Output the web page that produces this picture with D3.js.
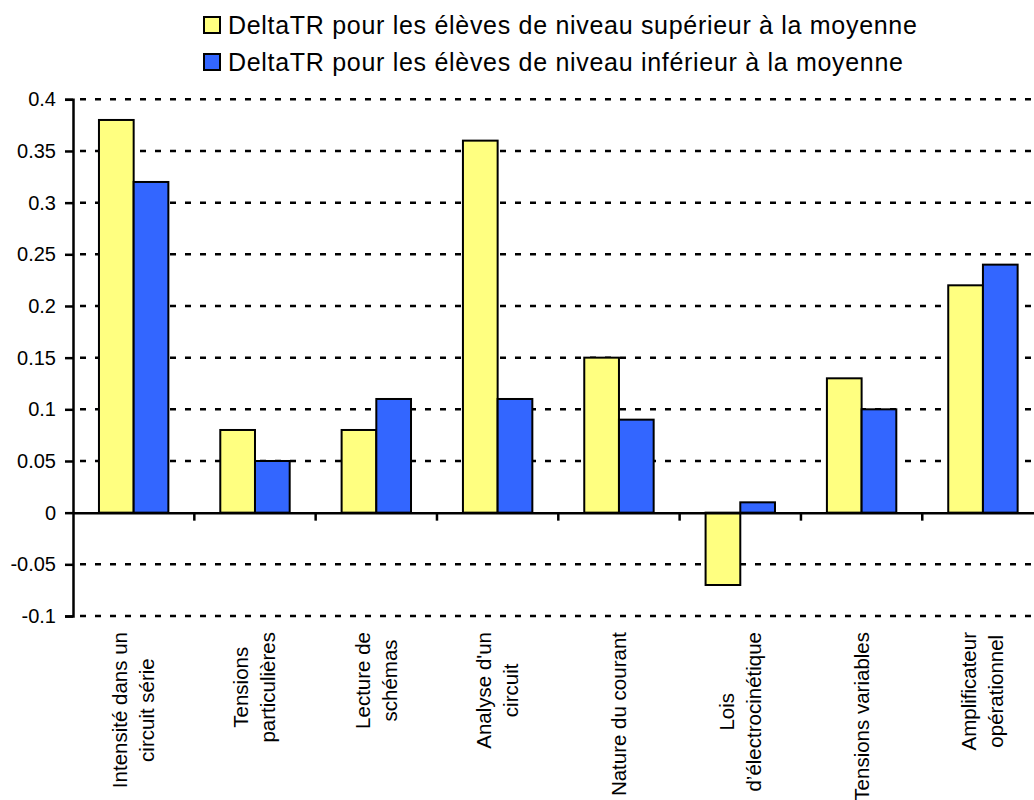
<!DOCTYPE html>
<html>
<head>
<meta charset="utf-8">
<script src="https://cdn.jsdelivr.net/npm/d3@7"></script>
<style>
  body { margin: 0; background: #fff; }
  svg { display: block; font-family: "Liberation Sans", Arial, sans-serif; }
</style>
</head>
<body>
<svg></svg>
<script>
const categories = [
  ["Intensité dans un", "circuit série"],
  ["Tensions", "particulières"],
  ["Lecture de", "schémas"],
  ["Analyse d'un", "circuit"],
  ["Nature du courant"],
  ["Lois", "d’électrocinétique"],
  ["Tensions variables"],
  ["Amplificateur", "opérationnel"]
];
const seriesNames = [
  "DeltaTR pour les élèves de niveau supérieur à la moyenne",
  "DeltaTR pour les élèves de niveau inférieur à la moyenne"
];
const superieur = [0.38, 0.08, 0.08, 0.36, 0.15, -0.07, 0.13, 0.22];
const inferieur = [0.32, 0.05, 0.11, 0.11, 0.09, 0.01, 0.10, 0.24];
const yTicks = [-0.1, -0.05, 0, 0.05, 0.1, 0.15, 0.2, 0.25, 0.3, 0.35, 0.4];
const colors = ["#FFFF80", "#3366FF"];

const svgWidth = 1034, svgHeight = 800;
const plotLeft = 73, plotRight = 1043.6, plotTop = 99.3, plotBottom = 616;

const svg = d3.select("svg")
  .attr("width", svgWidth)
  .attr("height", svgHeight);

const x0 = d3.scaleBand()
  .domain(d3.range(categories.length))
  .range([plotLeft, plotRight]);

const groupW = x0.bandwidth() * 0.572;
const x1 = d3.scaleBand()
  .domain([0, 1])
  .range([0, groupW]);

const y = d3.scaleLinear()
  .domain([-0.1, 0.4])
  .range([plotBottom, plotTop]);

// gridlines
svg.append("g")
  .selectAll("line")
  .data(yTicks.filter(d => d !== 0))
  .enter().append("line")
  .attr("x1", plotLeft + 7)
  .attr("x2", svgWidth)
  .attr("y1", d => y(d))
  .attr("y2", d => y(d))
  .attr("stroke", "#000")
  .attr("stroke-width", 2.5)
  .attr("stroke-dasharray", "6,9");

// bars
const rows = categories.map((c, i) => [superieur[i], inferieur[i]]);
const groups = svg.append("g")
  .selectAll("g")
  .data(rows)
  .enter().append("g")
  .attr("transform", (d, i) => `translate(${x0(i) + (x0.bandwidth() - groupW) / 2},0)`);

groups.selectAll("rect")
  .data(d => d.map((v, s) => ({ v, s })))
  .enter().append("rect")
  .attr("x", d => x1(d.s))
  .attr("width", x1.bandwidth())
  .attr("y", d => y(Math.max(0, d.v)))
  .attr("height", d => Math.abs(y(d.v) - y(0)))
  .attr("fill", d => colors[d.s])
  .attr("stroke", "#000")
  .attr("stroke-width", 2);

// y axis
const yAxis = d3.axisLeft(y)
  .tickValues(yTicks)
  .tickFormat(d => String(+d.toFixed(2)))
  .tickSize(8)
  .tickPadding(9);

const ya = svg.append("g")
  .attr("transform", `translate(${plotLeft},0)`)
  .call(yAxis);
ya.select(".domain").attr("stroke-width", 2.5);
ya.selectAll(".tick line").attr("stroke-width", 2.5);
ya.selectAll("text")
  .attr("font-size", 20)
  .attr("font-family", "Liberation Sans, Arial, sans-serif")
  .attr("fill", "#000");

// x axis at zero
const xAxis = d3.axisBottom(x0)
  .tickSize(0)
  .tickFormat("");
const xa = svg.append("g")
  .attr("transform", `translate(0,${y(0)})`)
  .call(xAxis);
xa.select(".domain").attr("stroke-width", 2.5);
xa.selectAll(".sep")
  .data(d3.range(1, categories.length))
  .enter().append("line")
  .attr("class", "sep")
  .attr("x1", i => x0(i))
  .attr("x2", i => x0(i))
  .attr("y1", 0)
  .attr("y2", 8)
  .attr("stroke", "#000")
  .attr("stroke-width", 2.5);

// category labels (rotated)
const labelTop = 632;
const lineGap = 27;
categories.forEach((lines, i) => {
  const cx = x0(i) + x0.bandwidth() / 2;
  const g = svg.append("g");
  const texts = lines.map((t, k) => g.append("text")
    .attr("font-size", 20.5)
    .attr("text-anchor", "middle")
    .attr("fill", "#000")
    .text(t));
  const maxLen = d3.max(texts, t => t.node().getComputedTextLength());
  const cy = labelTop + maxLen / 2;
  texts.forEach((t, k) => {
    const off = (k - (lines.length - 1) / 2) * lineGap;
    const bx = cx + off + 7;
    t.attr("transform", `translate(${bx},${cy}) rotate(-90)`);
  });
});

// legend
const legend = svg.append("g");
seriesNames.forEach((name, s) => {
  const ly = 25 + s * 37;
  legend.append("rect")
    .attr("x", 204)
    .attr("y", ly - 8)
    .attr("width", 16)
    .attr("height", 16)
    .attr("fill", colors[s])
    .attr("stroke", "#000")
    .attr("stroke-width", 2);
  legend.append("text")
    .attr("x", 228)
    .attr("y", ly + 8.5)
    .attr("font-size", 25)
    .attr("letter-spacing", 0.7)
    .attr("fill", "#000")
    .text(name);
});
</script>
</body>
</html>
